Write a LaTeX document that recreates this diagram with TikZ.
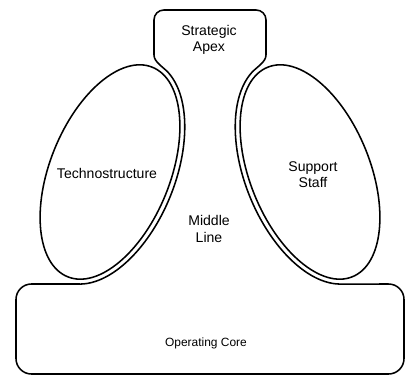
\documentclass[tikz,border=0pt]{standalone}
\usepackage{fontspec}
\setmainfont{Liberation Sans}
\begin{document}
\begin{tikzpicture}[x=0.025cm,y=0.025cm,
  part/.style={draw,line width=1.1pt,line join=round},
  lbl/.style={align=center,inner sep=0pt,font=\fontsize{10}{11.5}\selectfont}]
  \useasboundingbox (0,0) rectangle (406,-379);

  % outline of apex, middle line and operating core
  \draw[part]
  (154,-55) [rounded corners=7pt] -- (154,-10) -- (266,-10) [sharp corners] -- (266,-55)
  .. controls (266,-62) and (257.1,-66.7) .. (251.7,-72.6)
  -- plot[domain=15:167.5,samples=50,smooth,variable=\t]
     ({310-44.2*cos(\t)-60.3*sin(\t)},{-172+109.4*cos(\t)-24.3*sin(\t)})
  [rounded corners=11pt] -- (404,-284) -- (404,-374) -- (16,-374) -- (16,-284)
  [sharp corners] -- (79.9,-284)
  -- plot[domain=167.5:15,samples=50,smooth,variable=\t]
     ({110+44.2*cos(\t)+60.3*sin(\t)},{-172+109.4*cos(\t)-24.3*sin(\t)})
  .. controls (162.9,-66.7) and (154,-62) .. (154,-55) -- cycle;

  % the two staff ellipses
  \draw[part,rotate around={68:(110,-172)}] (110,-172) ellipse [x radius=113,y radius=60];
  \draw[part,rotate around={-68:(310,-172)}] (310,-172) ellipse [x radius=113,y radius=60];

  \node[lbl] (apex) at (209,-40) {Strategic\\Apex};
  \node[lbl] (techno) at (107,-173) {Technostructure};
  \node[lbl] (support) at (313,-175) {Support\\Staff};
  \node[lbl] (middle) at (209,-229) {Middle\\Line};
  \node[lbl,font=\fontsize{8.5}{10}\selectfont] (core) at (206,-343) {Operating Core};
\end{tikzpicture}
\end{document}
